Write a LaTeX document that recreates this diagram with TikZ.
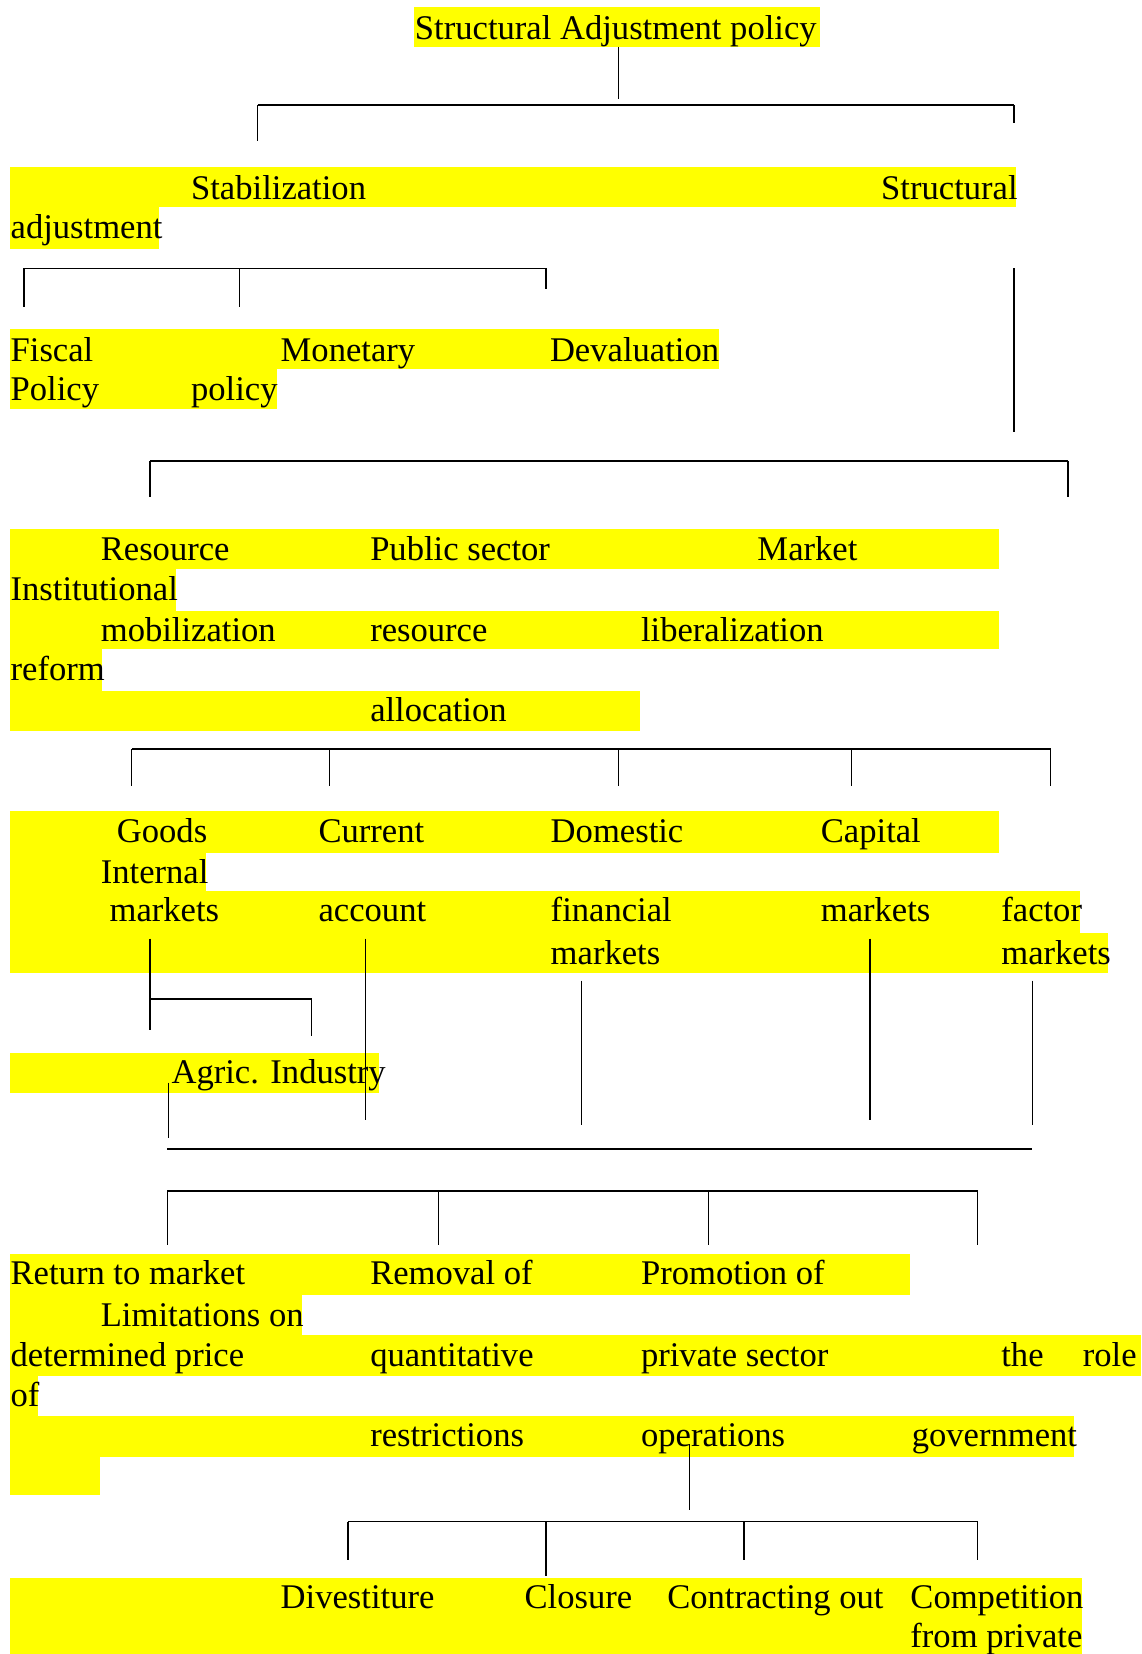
\documentclass[tikz,border=0pt]{standalone}
\usepackage{fontspec}
\setmainfont{Liberation Serif}
\definecolor{hl}{RGB}{255,255,0}
\begin{document}
\begin{tikzpicture}[x=0.5pt,y=-0.5pt,
 band/.style={fill=hl,draw=none},
 txt/.style={anchor=base west,inner sep=0pt,font=\fontsize{16.4}{19}\selectfont},
 vline/.style={line width=0.55pt},
 hline/.style={line width=0.85pt}]
\useasboundingbox (0,0) rectangle (1082,1568);
% highlight bands
\fill[band] (392.7,6.3) rectangle (777.8,44.3);
\fill[band] (9.7,158) rectangle (962.7,196);
\fill[band] (9.7,196) rectangle (151.1,236);
\fill[band] (9.7,312) rectangle (681.2,349.6);
\fill[band] (9.7,349.6) rectangle (262.2,387.6);
\fill[band] (9.7,501.7) rectangle (947.5,539.6);
\fill[band] (9.7,539.6) rectangle (167,579.4);
\fill[band] (9.7,579.4) rectangle (947.5,615.5);
\fill[band] (9.7,615.5) rectangle (96.6,655.3);
\fill[band] (9.7,655.3) rectangle (606.6,693.2);
\fill[band] (9.7,769) rectangle (947.5,808.6);
\fill[band] (9.7,808.6) rectangle (195.3,844.7);
\fill[band] (9.7,844.7) rectangle (1023.5,884.5);
\fill[band] (9.7,884.5) rectangle (1050.4,922.4);
\fill[band] (9.7,998.6) rectangle (359.6,1036.2);
\fill[band] (9.7,1188.5) rectangle (862.7,1228);
\fill[band] (9.7,1228) rectangle (286.4,1266);
\fill[band] (9.7,1266) rectangle (1082,1304);
\fill[band] (9.7,1304) rectangle (35.9,1342);
\fill[band] (9.7,1342) rectangle (1018,1381.4);
\fill[band] (9.7,1381.4) rectangle (94.5,1417.7);
\fill[band] (9.7,1495.8) rectangle (1026.2,1568);
% texts
\node[txt] (sap) at (393,37.2) {Structural Adjustment policy};
\node[txt] (stab) at (180.8,189) {Stabilization};
\node[txt] (struc) at (835,189) {Structural};
\node[txt] (adj) at (9.7,226) {adjustment};
\node[txt] (fisc) at (9.7,342.5) {Fiscal};
\node[txt] (mon) at (265.7,342.5) {Monetary};
\node[txt] (deval) at (521,342.5) {Devaluation};
\node[txt] (fisc2) at (9.7,379.3) {Policy};
\node[txt] (mon2) at (180.8,379.3) {policy};
\node[txt] (res) at (95.2,531) {Resource};
\node[txt] (pub) at (350.6,531) {Public sector};
\node[txt] (mkt) at (717.7,531) {Market};
\node[txt] (inst) at (9.7,569) {Institutional};
\node[txt] (res2) at (95.2,608.5) {mobilization};
\node[txt] (pub2) at (350.6,608.5) {resource};
\node[txt] (mkt2) at (607.3,608.5) {liberalization};
\node[txt] (inst2) at (9.7,644.9) {reform};
\node[txt] (pub3) at (350.6,684.4) {allocation};
\node[txt] (goods) at (110.4,799.1) {Goods};
\node[txt] (cur) at (301.6,799.1) {Current};
\node[txt] (dom) at (521.7,799.1) {Domestic};
\node[txt] (cap) at (777.8,799.1) {Capital};
\node[txt] (intl) at (95.2,837.7) {Internal};
\node[txt] (goods2) at (103.5,874) {markets};
\node[txt] (cur2) at (301.6,874) {account};
\node[txt] (dom2) at (521.7,874) {financial};
\node[txt] (cap2) at (777.8,874) {markets};
\node[txt] (intl2) at (948.9,874) {factor};
\node[txt] (dom3) at (521.7,914.2) {markets};
\node[txt] (intl3) at (948.9,914.2) {markets};
\node[txt] (agr) at (162.2,1027.3) {Agric. Industry};
\node[txt] (ret) at (9.7,1217.7) {Return to market};
\node[txt] (rem) at (350.6,1217.7) {Removal of};
\node[txt] (prom) at (607.3,1217.7) {Promotion of};
\node[txt] (lim) at (95.2,1257.5) {Limitations on};
\node[txt] (ret2) at (9.7,1295.4) {determined price};
\node[txt] (rem2) at (350.6,1295.4) {quantitative};
\node[txt] (prom2) at (607.3,1295.4) {private sector};
\node[txt] (lim2) at (948.9,1295.4) {the};
\node[txt] (lim3) at (1026.2,1295.4) {role};
\node[txt] (lim4) at (9.7,1333) {of};
\node[txt] (rem3) at (350.6,1371.3) {restrictions};
\node[txt] (prom3) at (607.3,1371.3) {operations};
\node[txt] (lim5) at (864,1371.3) {government};
\node[txt] (div) at (265.7,1525.2) {Divestiture};
\node[txt] (clo) at (496.9,1525.2) {Closure};
\node[txt] (con) at (632.2,1525.2) {Contracting out};
\node[txt] (comp) at (862.7,1525.2) {Competition};
\node[txt] (comp2) at (862.7,1562.2) {from private};
% connectors
\draw[vline] (586,44.3) -- (586,94);
\draw[hline] (244.3,99.6) -- (961.3,99.6);
\draw[vline] (244.3,99.6) -- (244.3,134);
\draw[vline] (961.3,99.6) -- (961.3,117);
\draw[hline] (22.8,254.5) -- (517.6,254.5);
\draw[vline] (22.8,254.5) -- (22.8,291);
\draw[vline] (227,254.5) -- (227,291);
\draw[vline] (517.6,254.5) -- (517.6,274);
\draw[vline] (961.3,254.5) -- (961.3,410);
\draw[hline] (142.2,436.9) -- (1012.4,436.9);
\draw[vline] (142.2,436.9) -- (142.2,471.6);
\draw[vline] (1012.4,436.9) -- (1012.4,471.6);
\draw[hline] (124.9,710.3) -- (995.9,710.3);
\foreach \x in {124.9,312.6,586,807.5,995.9} \draw[vline] (\x,710.3) -- (\x,745);
\draw[vline] (142.2,889.8) -- (142.2,976);
\draw[hline] (142.2,947.4) -- (295.4,947.4);
\draw[vline] (295.4,947.4) -- (295.4,982);
\draw[vline] (346.4,889.8) -- (346.4,1061.5);
\draw[vline] (551.4,929.7) -- (551.4,1066.8);
\draw[vline] (824.7,889.8) -- (824.7,1061.5);
\draw[vline] (978.6,929.7) -- (978.6,1066.8);
\draw[vline] (159.4,1026.4) -- (159.4,1078.5);
\draw[hline] (158.7,1089.3) -- (978.6,1089.3);
\draw[hline] (158.7,1128.8) -- (926.8,1128.8);
\foreach \x in {158.7,415.5,671.5,926.8} \draw[vline] (\x,1128.8) -- (\x,1180.6);
\draw[vline] (653.6,1368.7) -- (653.6,1431.3);
\draw[hline] (329.9,1442.4) -- (926.8,1442.4);
\draw[vline] (329.9,1442.4) -- (329.9,1478.7);
\draw[vline] (517.6,1442.4) -- (517.6,1493.6);
\draw[vline] (705.3,1442.4) -- (705.3,1478.7);
\draw[vline] (926.8,1442.4) -- (926.8,1478.7);
\end{tikzpicture}
\end{document}
